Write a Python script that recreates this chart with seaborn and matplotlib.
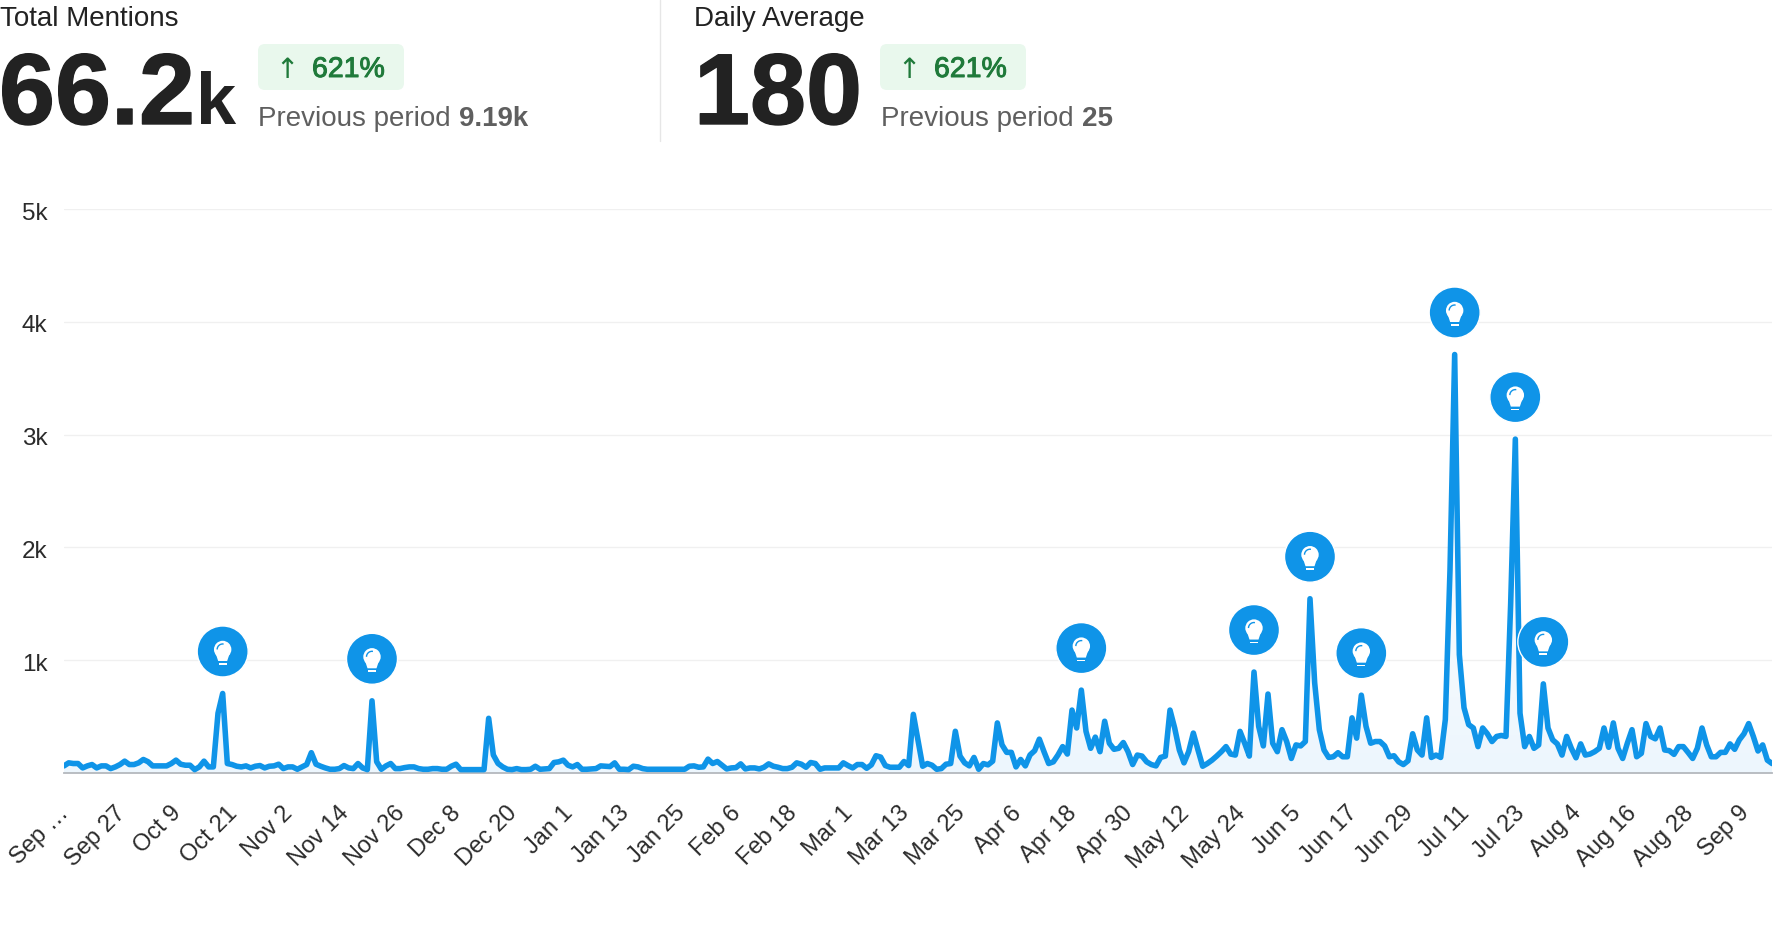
import numpy as np
import pandas as pd
import matplotlib
matplotlib.use("Agg")
import matplotlib.pyplot as plt
import matplotlib.patheffects as pe
import seaborn as sns
from matplotlib.colors import LinearSegmentedColormap
from matplotlib.patches import Circle, FancyBboxPatch, Rectangle, Polygon, Arc
from matplotlib.transforms import Affine2D, ScaledTranslation

# daily mentions (Sep 15 -> Sep 16)
mentions_autumn = [
    63, 90, 84, 84, 45, 63, 75, 45, 63, 63,
    39, 54, 75, 105, 75, 75, 90, 120, 100, 63,
    63, 63, 63, 84, 114, 78, 69, 69, 30, 54,
    105, 54, 54, 530, 705, 84, 75, 60, 54, 63,
    45, 60, 66, 45, 60, 63, 78, 39, 54, 54,
    33, 54, 75, 180, 78, 60, 45, 33, 33, 39,
    66, 45, 39, 84, 45, 30, 640, 100, 33, 63,
    84, 39, 39, 48, 54, 54, 39, 33, 33, 39,
    39, 33, 33, 60, 78, 30, 30, 30, 30, 30,
]
mentions_winter = [
    30, 485, 160, 85, 54, 33, 30, 39, 30, 30,
    33, 60, 33, 36, 39, 93, 99, 114, 69, 54,
    75, 33, 33, 36, 39, 63, 60, 57, 90, 33,
    33, 30, 60, 54, 39, 33, 33, 33, 33, 33,
    33, 33, 33, 33, 60, 63, 51, 54, 123, 84,
    102, 69, 36, 45, 48, 81, 36, 45, 45, 36,
    51, 81, 60, 51, 39, 39, 51, 90, 78, 51,
    93, 84, 33, 45, 45, 45, 45, 90, 66, 45,
    75, 75, 42, 72, 153, 141, 66, 51, 51, 51,
]
mentions_spring = [
    102, 66, 520, 290, 60, 84, 69, 33, 39, 78,
    84, 370, 150, 90, 63, 138, 33, 84, 72, 105,
    444, 250, 183, 183, 54, 120, 63, 160, 198, 300,
    189, 84, 99, 160, 234, 168, 558, 399, 735, 369,
    219, 318, 189, 459, 264, 210, 219, 270, 189, 75,
    159, 150, 99, 75, 63, 138, 150, 558, 399, 204,
    90, 189, 354, 204, 60, 84, 114, 150, 189, 234,
    168, 159, 369, 264, 150, 895, 414, 240, 700, 264,
    189, 384, 279, 129, 249, 240, 279, 1545, 800, 384,
]
mentions_summer = [
    204, 138, 144, 180, 144, 144, 489, 309, 690, 414,
    264, 279, 279, 240, 144, 153, 99, 75, 108, 348,
    204, 159, 489, 138, 159, 138, 474, 1800, 3710, 1050,
    579, 429, 399, 234, 399, 348, 279, 324, 333, 324,
    1500, 2960, 530, 234, 324, 219, 249, 790, 399, 294,
    258, 159, 324, 219, 135, 258, 159, 168, 189, 219,
    399, 228, 444, 219, 129, 264, 384, 144, 174, 438,
    324, 303, 399, 204, 198, 165, 234, 234, 183, 129,
    219, 399, 249, 144, 144, 183, 183, 258, 210, 294,
    348, 438, 324, 195, 249, 114, 84,
]
tick_labels = ["Sep …", "Sep 27", "Oct 9", "Oct 21", "Nov 2", "Nov 14", "Nov 26", "Dec 8",
               "Dec 20", "Jan 1", "Jan 13", "Jan 25", "Feb 6", "Feb 18", "Mar 1", "Mar 13",
               "Mar 25", "Apr 6", "Apr 18", "Apr 30", "May 12", "May 24", "Jun 5", "Jun 17",
               "Jun 29", "Jul 11", "Jul 23", "Aug 4", "Aug 16", "Aug 28", "Sep 9"]
y_ticks = [1000, 2000, 3000, 4000, 5000]
y_labels = ["1k", "2k", "3k", "4k", "5k"]
insight_days = [34, 66, 218, 255, 267, 278, 298, 311, 317]

BLUE = "#0f94e8"
W, H = 1792, 936

mentions = mentions_autumn + mentions_winter + mentions_spring + mentions_summer
df = pd.DataFrame({"day": np.arange(len(mentions)), "mentions": mentions})

sns.set_style("white")
plt.rcParams["font.family"] = ["Liberation Sans", "DejaVu Sans"]

fig = plt.figure(figsize=(W / 100, H / 100), dpi=100)
ax = fig.add_axes([64 / W, (H - 773) / H, (1772 - 64) / W, (773 - 209) / H])

# pale gradient under the line
poly = ax.fill_between(df["day"], df["mentions"], 0, color="none")
cmap = LinearSegmentedColormap.from_list("fade", ["#edf6fd", "#ffffff"])
grad = ax.imshow(np.linspace(0, 1, 256).reshape(-1, 1), cmap=cmap, origin="lower", aspect="auto",
                 extent=(0, len(df) - 1, 0, 3000), zorder=1)
grad.set_clip_path(poly.get_paths()[0], transform=ax.transData)

sns.lineplot(data=df, x="day", y="mentions", ax=ax, color=BLUE, linewidth=4.0, zorder=3,
             solid_joinstyle="round", errorbar=None)

ax.set_xlim(0, len(df) - 1)
ax.set_ylim(0, 5000)
ax.set_xlabel("")
ax.set_ylabel("")
ax.set_yticks(y_ticks)
ax.set_yticklabels(y_labels, fontsize=17.5, color="#2b2b2b")
ax.set_xticks(np.arange(len(tick_labels)) * 12)
ax.set_xticklabels(tick_labels, fontsize=17, color="#2b2b2b", rotation=45, ha="right",
                   rotation_mode="anchor")
ax.tick_params(axis="both", length=0)
ax.tick_params(axis="x", pad=21)
ax.tick_params(axis="y", pad=12)
ax.yaxis.grid(True, color="#f0f0f0", linewidth=1)
ax.set_axisbelow(True)
sns.despine(ax=ax, left=True)
ax.spines["bottom"].set_color("#b4b8bd")
ax.spines["bottom"].set_linewidth(1.3)

# nudge the labels a few pixels, as in the original
for lab in ax.get_xticklabels():
    lab.set_transform(lab.get_transform() + Affine2D().translate(-6, 0))
for lab in ax.get_yticklabels():
    lab.set_transform(lab.get_transform() + Affine2D().translate(0, -2))

# insight bubbles, sizes in pixels, 42 px above each peak
for d in insight_days:
    tr = Affine2D().scale(1, -1).translate(0, 42) + ScaledTranslation(d, mentions[d], ax.transData)
    ax.add_patch(Circle((0, 0), 25.5, transform=tr, fc=BLUE, ec="white", lw=1, zorder=5, clip_on=False))
    ax.add_patch(Circle((0, -2), 8.7, transform=tr, fc="white", ec="none", zorder=6, clip_on=False))
    ax.add_patch(Polygon([(-7, 2), (7, 2), (4.5, 9.5), (-4.5, 9.5)], transform=tr, fc="white", ec="none",
                         zorder=6, clip_on=False))
    ax.add_patch(Rectangle((-4, 11.5), 8, 1.6, transform=tr, fc="white", ec="none", zorder=6, clip_on=False))
    ax.add_patch(Arc((0, -2), 11, 11, theta1=180, theta2=280, transform=tr, ec=BLUE, lw=1, zorder=7,
                     clip_on=False))

# header, positions in pixels from the top left
hdr = Affine2D().scale(1 / W, -1 / H).translate(0, 1) + fig.transFigure


def header_text(x, y, s, size, color="#222222", weight="normal", **kw):
    return fig.text(x, y, s, transform=hdr, fontsize=size, color=color, fontweight=weight,
                    va="baseline", **kw)


def badge(x):
    fig.add_artist(FancyBboxPatch((x + 6, 50), 134, 34, boxstyle="round,pad=6,rounding_size=7",
                                  transform=hdr, fc="#e9f8ed", ec="none"))
    header_text(x + 17, 78, "↑", 20, color="#1f7a3a", family="DejaVu Sans")
    t = header_text(x + 54, 77, "621%", 20.5, color="#1f7a3a")
    t.set_path_effects([pe.withStroke(linewidth=0.7, foreground="#1f7a3a")])


def big_number(x, s):
    t = header_text(x, 124, s, 72.5, weight="bold")
    t.set_path_effects([pe.withStroke(linewidth=1.0, foreground="#222222")])


header_text(0, 26, "Total Mentions", 20)
big_number(-1, "66.2")
header_text(196, 124, "k", 52, weight="bold")
badge(258)
header_text(258, 126, "Previous period", 20, color="#5f5f5f")
header_text(459, 126, "9.19k", 20, color="#5f5f5f", weight="bold")

fig.add_artist(plt.Line2D([660, 660], [0, 141], transform=hdr, color="#e6e6e6", lw=1))

header_text(694, 26, "Daily Average", 20)
big_number(694, "180")
badge(880)
header_text(881, 126, "Previous period", 20, color="#5f5f5f")
header_text(1082, 126, "25", 20, color="#5f5f5f", weight="bold")

fig.savefig("out.png", dpi=100)
